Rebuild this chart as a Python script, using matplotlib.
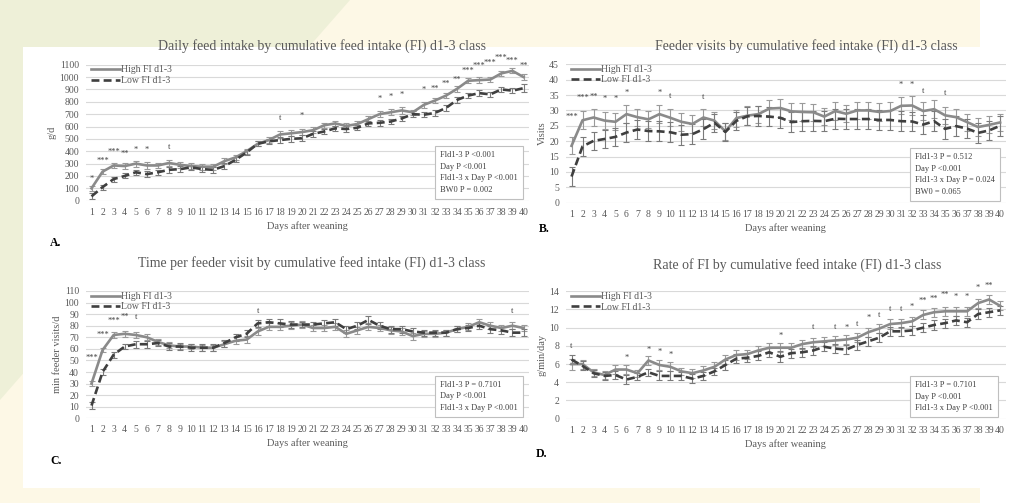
import numpy as np
import matplotlib
matplotlib.use('Agg')
import matplotlib.pyplot as plt
from matplotlib.lines import Line2D
from matplotlib.patches import Polygon, Rectangle

plt.rcParams['font.family'] = ['Liberation Serif', 'DejaVu Serif']

days = list(range(1, 41))

# A. daily feed intake (g/d)
fi_high = [100, 235, 285, 280, 300, 285, 285, 305, 290, 280, 275, 275, 320, 350, 400, 460, 490, 535, 545, 555,
           570, 610, 625, 605, 620, 660, 700, 715, 730, 715, 775, 810, 850, 905, 970, 975, 980, 1030, 1050, 1000]
fi_low = [35, 110, 175, 200, 230, 215, 230, 250, 255, 270, 255, 250, 280, 330, 390, 460, 480, 490, 500, 505,
          540, 560, 585, 580, 590, 625, 630, 640, 665, 700, 695, 710, 750, 815, 850, 870, 860, 900, 890, 910]
fi_high_err = [22, 20, 22, 22, 25, 25, 22, 25, 25, 22, 25, 25, 22, 22, 20, 20, 22, 25, 25, 25,
               22, 22, 22, 22, 22, 22, 22, 25, 25, 22, 22, 22, 22, 22, 22, 22, 22, 22, 20, 25]
fi_low_err = [25, 20, 20, 20, 20, 22, 22, 25, 25, 22, 25, 25, 25, 20, 20, 20, 20, 25, 25, 25,
              22, 22, 22, 22, 22, 22, 22, 22, 22, 22, 22, 22, 22, 22, 22, 22, 22, 22, 22, 30]
fi_sig_days = [1, 2, 3, 4, 5, 6, 8, 18, 20, 27, 28, 29, 31, 32, 33, 34, 35, 36, 37, 38, 39, 40]
fi_sig_labels = ['*', '***', '***', '**', '*', '*', 't', 't', '*', '*', '*', '*', '*', '**', '**', '**',
                 '***', '***', '***', '***', '***', '**']
fi_sig_y = [140, 290, 360, 345, 380, 380, 400, 640, 650, 790, 805, 820, 860, 875, 915, 945,
            1020, 1060, 1085, 1125, 1095, 1060]

# B. feeder visits
vis_high = [18.5, 26.8, 27.7, 26.7, 26.3, 28.8, 27.8, 27.1, 28.8, 27.6, 26.3, 25.6, 27.7, 26.7, 23.2, 27.5,
            28.3, 28.8, 30.6, 30.8, 29.7, 29.5, 29.4, 28.0, 29.8, 28.9, 30.0, 30.0, 29.5, 29.8, 31.5, 31.6,
            29.8, 30.4, 28.4, 27.8, 26.2, 24.6, 25.3, 26.1]
vis_low = [8.5, 18.3, 20.1, 20.7, 21.4, 22.8, 23.8, 23.3, 23.2, 22.9, 22.1, 22.3, 23.9, 26.0, 23.0, 26.6,
           28.1, 28.2, 28.0, 27.6, 26.2, 26.5, 26.6, 26.5, 27.3, 27.2, 27.2, 27.2, 26.9, 26.9, 26.5, 26.4,
           25.4, 26.5, 24.0, 24.9, 24.1, 22.7, 23.5, 25.0]
vis_high_err = [2.8, 3.0, 2.8, 2.8, 2.8, 3.0, 2.8, 2.8, 3.0, 2.8, 3.0, 3.0, 2.8, 2.8, 2.8, 2.8,
                3.0, 2.8, 2.8, 2.8, 2.8, 2.8, 2.8, 2.8, 2.8, 2.8, 2.8, 2.8, 2.8, 2.8, 2.8, 3.0,
                2.8, 3.0, 2.8, 2.8, 2.8, 2.8, 2.8, 2.8]
vis_low_err = [3.2, 3.0, 3.0, 3.0, 3.0, 3.2, 3.2, 3.2, 3.2, 3.2, 3.2, 3.2, 3.2, 3.0, 2.8, 3.0,
               3.0, 3.2, 3.2, 3.2, 3.2, 3.2, 3.2, 3.2, 3.2, 3.2, 3.2, 3.2, 3.2, 3.2, 3.2, 3.2,
               3.2, 3.2, 3.2, 3.2, 3.2, 3.2, 3.2, 3.2]
vis_sig_days = [1, 2, 3, 4, 5, 6, 9, 10, 13, 31, 32, 33, 35]
vis_sig_labels = ['***', '***', '**', '*', '*', '*', '*', 't', 't', '*', '*', 't', 't']
vis_sig_y = [26.5, 32.8, 33.2, 32.5, 32.5, 34.5, 34.5, 33.5, 33.2, 37, 37, 35, 34.5]

# C. time per feeder visit (min)
tpv_high = [30, 59, 72, 73, 72, 70, 66, 63, 62, 62, 61, 61, 64, 67, 68, 75, 79, 79, 80, 81,
            78, 78, 79, 73, 76, 79, 78, 76, 75, 71, 73, 73, 74, 77, 79, 83, 80, 78, 80, 78]
tpv_low = [11, 40, 55, 62, 64, 64, 65, 62, 62, 61, 61, 61, 65, 70, 73, 82, 83, 82, 81, 81,
           81, 82, 83, 77, 80, 85, 80, 77, 77, 75, 74, 74, 74, 77, 78, 80, 77, 76, 74, 74]
tpv_high_err = [2, 2, 2.5, 2.5, 2.5, 2.5, 2.5, 2.5, 2.5, 2.5, 2.5, 2.5, 2.5, 3, 3, 3, 3, 3, 3, 3,
                3, 3, 3, 3, 3, 3, 3, 3, 3, 3, 2.5, 2.5, 2.5, 2.5, 3, 3, 3, 3, 3, 3]
tpv_low_err = [3, 3, 2.5, 2.5, 3, 3, 2.5, 3, 3, 3, 3, 3, 3, 3, 3, 3, 3, 3.5, 3, 2.5,
               2.5, 3, 3, 3, 3, 3.5, 3, 3, 3, 3, 2.5, 2.5, 2.5, 2.5, 3, 3, 3, 3, 3, 3]
tpv_sig_days = [1, 2, 3, 4, 5, 16, 39]
tpv_sig_labels = ['***', '***', '***', '**', 't', 't', 't']
tpv_sig_y = [49, 69, 81, 84, 84, 89, 89]

# D. rate of feed intake (g/min/day)
rate_high = [6.0, 6.0, 5.1, 4.8, 5.4, 5.4, 5.0, 6.4, 5.9, 5.7, 5.2, 5.0, 5.3, 5.7, 6.5, 7.0, 7.1, 7.5, 7.8, 7.8,
             7.8, 8.2, 8.4, 8.5, 8.6, 8.7, 8.9, 9.5, 9.9, 10.4, 10.5, 10.7, 11.4, 11.7, 11.8, 11.8, 11.8,
             12.7, 13.1, 12.4]
rate_low = [6.5, 5.8, 5.0, 4.7, 4.8, 4.3, 4.6, 5.1, 4.7, 4.7, 4.7, 4.4, 4.7, 5.2, 5.9, 6.6, 6.7, 6.9, 7.3, 6.8,
            7.2, 7.3, 7.5, 7.9, 7.7, 7.6, 8.1, 8.5, 8.9, 9.6, 9.6, 9.7, 10.0, 10.3, 10.5, 10.8, 10.6,
            11.5, 11.7, 11.9]
rate_high_err = [0.6, 0.5, 0.4, 0.4, 0.5, 0.5, 0.4, 0.5, 0.5, 0.5, 0.4, 0.5, 0.5, 0.5, 0.5, 0.5, 0.5, 0.5,
                 0.5, 0.5, 0.5, 0.5, 0.5, 0.5, 0.5, 0.5, 0.5, 0.5, 0.5, 0.5, 0.5, 0.5, 0.5, 0.5, 0.5, 0.5,
                 0.5, 0.5, 0.5, 0.5]
rate_low_err = [0.5, 0.5, 0.4, 0.4, 0.4, 0.5, 0.4, 0.4, 0.5, 0.5, 0.4, 0.5, 0.4, 0.4, 0.5, 0.5, 0.5, 0.5,
                0.5, 0.6, 0.5, 0.5, 0.5, 0.5, 0.5, 0.5, 0.5, 0.5, 0.5, 0.5, 0.5, 0.5, 0.5, 0.5, 0.5, 0.5,
                0.5, 0.5, 0.5, 0.5]
rate_sig_days = [1, 6, 8, 9, 10, 20, 23, 25, 26, 27, 28, 29, 30, 31, 32, 33, 34, 35, 36, 37, 38, 39]
rate_sig_labels = ['t', '*', '*', '*', '*', '*', 't', 't', '*', 't', '*', 't', 't', 't', '*', '**', '**',
                   '**', '*', '*', '*', '**']
rate_sig_y = [7.5, 6.2, 7.1, 6.9, 6.6, 8.7, 9.6, 9.6, 9.5, 10.0, 10.6, 11.0, 11.6, 11.6, 11.9, 12.5, 12.7,
              13.2, 12.9, 12.9, 13.9, 14.2]

GRAY_TXT = '#595959'
HIGH_C = '#8a8a8a'
LOW_C = '#3f3f3f'

fig = plt.figure(figsize=(10.21, 5.03), dpi=100)
fig.patch.set_facecolor('#fdf8e6')
W, H = 1021.0, 503.0


def px(x, y):
    return (x / W, 1 - y / H)


# decorative backdrop (kept beneath the axes)
fig.patches.append(Polygon([px(0, 0), px(350, 0), px(0, 400)], closed=True,
                           facecolor='#eef0d8', edgecolor='none', transform=fig.transFigure, zorder=-10))
fig.patches.append(Rectangle(px(980, 503), 41 / W, 1.0, facecolor='white', edgecolor='none',
                             transform=fig.transFigure, zorder=-9))
fig.patches.append(Rectangle(px(23, 488), 998 / W, 441 / H, facecolor='white', edgecolor='none',
                             transform=fig.transFigure, zorder=-9))


def panel(rect, high, low, high_err, low_err, ylim, ystep, title, title_pos, ylabel, stats,
          sig_days, sig_labels, sig_y, letter, letter_pos, box_x):
    ax = fig.add_axes(rect)
    ax.set_facecolor('none')
    x = np.array(days)
    ax.errorbar(x, high, yerr=high_err, color=HIGH_C, lw=1.9, ecolor='#9a9a9a', elinewidth=0.8,
                capsize=2, capthick=0.8, zorder=3)
    ax.errorbar(x, low, yerr=low_err, color=LOW_C, lw=1.9, ls=(0, (3, 1.6)), ecolor='#7a7a7a',
                elinewidth=0.8, capsize=2, capthick=0.8, zorder=3)
    for d, lab, yv in zip(sig_days, sig_labels, sig_y):
        ax.text(d, yv, lab, ha='center', va='bottom', fontsize=6, color='#404040', clip_on=False)
    ax.set_xlim(0.5, 40.5)
    ax.set_ylim(*ylim)
    ax.set_yticks(np.arange(ylim[0], ylim[1] + ystep / 2, ystep))
    ax.set_xticks(days)
    ax.tick_params(length=0, labelsize=7, colors=GRAY_TXT, pad=5)
    ax.grid(axis='y', color='#d9d9d9', lw=0.8)
    ax.set_axisbelow(True)
    for s in ax.spines.values():
        s.set_visible(False)
    fig.text(*px(*title_pos), title, fontsize=10, color=GRAY_TXT, ha='center', va='center')
    ax.set_xlabel('Days after weaning', fontsize=7.5, color=GRAY_TXT, labelpad=3)
    ax.set_ylabel(ylabel, fontsize=7.5, color=GRAY_TXT, labelpad=2)
    handles = [Line2D([], [], color=HIGH_C, lw=1.9),
               Line2D([], [], color=LOW_C, lw=1.9, ls=(0, (3, 1.6)))]
    leg = ax.legend(handles, ['High FI d1-3', 'Low FI d1-3'], loc='upper left', frameon=False,
                    fontsize=7, handlelength=3, handletextpad=0.1, labelspacing=0.15,
                    borderaxespad=0.1, bbox_to_anchor=(0.0, 1.03))
    for t in leg.get_texts():
        t.set_color(GRAY_TXT)
    ax.text(box_x, 0.05, '\n'.join(stats), transform=ax.transAxes, fontsize=6, color='#404040',
            va='bottom', ha='left', linespacing=1.6,
            bbox=dict(boxstyle='square,pad=0.6', facecolor='white', edgecolor='#bfbfbf', lw=0.8), zorder=5)
    fig.text(*px(*letter_pos), letter, fontsize=8.5, fontweight='bold', color='black', ha='left', va='center')
    return ax


panel([0.0842, 0.601, 0.434, 0.2704], fi_high, fi_low, fi_high_err, fi_low_err, (0, 1100), 100,
      'Daily feed intake by cumulative feed intake (FI) d1-3 class', (322, 46), 'g/d',
      ['Fld1-3 P <0.001', 'Day P <0.001', 'Fld1-3 x Day P <0.001', 'BW0 P = 0.002'],
      fi_sig_days, fi_sig_labels, fi_sig_y, 'A.', (50, 243), 0.80)

panel([0.5544, 0.597, 0.4305, 0.2752], vis_high, vis_low, vis_high_err, vis_low_err, (0, 45), 5,
      'Feeder visits by cumulative feed intake (FI) d1-3 class', (806, 46), 'Visits',
      ['Fld1-3 P = 0.512', 'Day P <0.001', 'Fld1-3 x Day P = 0.024', 'BW0 = 0.065'],
      vis_sig_days, vis_sig_labels, vis_sig_y, 'B.', (539, 229), 0.795)

panel([0.0842, 0.1684, 0.434, 0.2531], tpv_high, tpv_low, tpv_high_err, tpv_low_err, (0, 110), 10,
      'Time per feeder visit by cumulative feed intake (FI) d1-3 class', (312, 263), 'min feeder visits/d',
      ['Fld1-3 P = 0.7101', 'Day P <0.001', 'Fld1-3 x Day P <0.001'],
      tpv_sig_days, tpv_sig_labels, tpv_sig_y, 'C.', (50, 461), 0.80)

panel([0.5544, 0.1676, 0.4305, 0.2533], rate_high, rate_low, rate_high_err, rate_low_err, (0, 14), 2,
      'Rate of FI by cumulative feed intake (FI) d1-3 class', (797, 265), 'g/min/day',
      ['Fld1-3 P = 0.7101', 'Day P <0.001', 'Fld1-3 x Day P <0.001'],
      rate_sig_days, rate_sig_labels, rate_sig_y, 'D.', (536, 454), 0.795)

fig.savefig('out.png', dpi=100, facecolor=fig.get_facecolor())
